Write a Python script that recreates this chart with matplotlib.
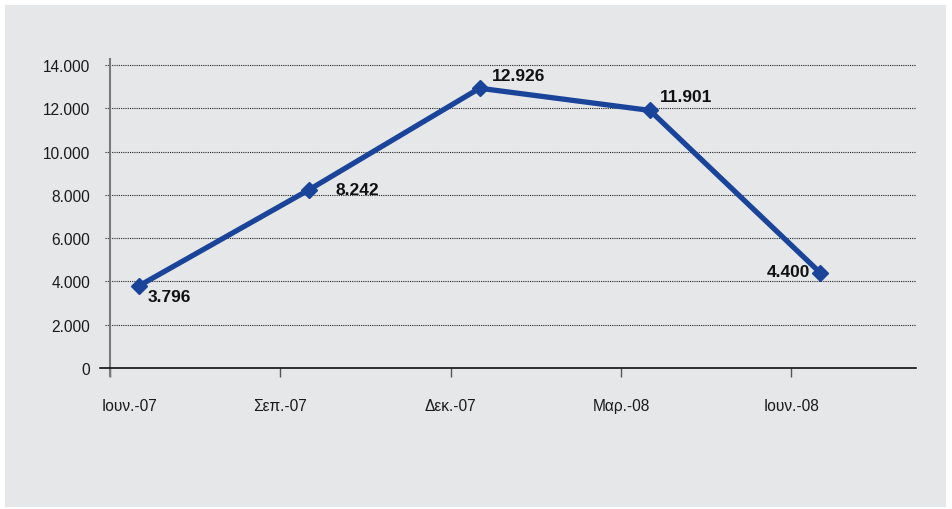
import matplotlib
matplotlib.use("Agg")
import matplotlib.pyplot as plt
from matplotlib.patches import Rectangle
from matplotlib.transforms import ScaledTranslation

plt.rcParams['font.family'] = ['Liberation Sans Narrow', 'Liberation Sans', 'DejaVu Sans']

categories = ["Ιουν.-07", "Σεπ.-07", "Δεκ.-07", "Μαρ.-08", "Ιουν.-08"]
values = [3796, 8242, 12926, 11901, 4400]
value_labels = ["3.796", "8.242", "12.926", "11.901", "4.400"]
yticks = [0, 2000, 4000, 6000, 8000, 10000, 12000, 14000]
ytick_labels = ["0", "2.000", "4.000", "6.000", "8.000", "10.000", "12.000", "14.000"]

W, H = 952, 510
fig = plt.figure(figsize=(W / 100, H / 100), dpi=100, facecolor="white")
bg = "#e6e7e9"
fig.patches.append(Rectangle((5 / W, 2 / H), 941 / W, 502 / H, transform=fig.transFigure,
                             facecolor=bg, edgecolor="none", zorder=-10))

ax = fig.add_axes([100 / W, (H - 369) / H, 816 / W, 309 / H])
ax.set_facecolor("none")
x = list(range(len(categories)))
tick_off = -0.17
ax.set_xlim(-0.229, 4.5625)
ax.set_ylim(0, 14277)

for s in ["top", "right", "left"]:
    ax.spines[s].set_visible(False)
ax.spines["bottom"].set_color("#111111")
ax.spines["bottom"].set_linewidth(1.2)

# dotted gridlines
ax.hlines(yticks[1:], -0.2, 4.5625, colors="#222222", linestyles=(0, (1.0, 1.0)), linewidth=0.8, zorder=1)
# y axis line (extends below x axis)
ax.plot([tick_off, tick_off], [-370, 14277], color="#7a7a7a", linewidth=1.5, clip_on=False, zorder=2)

ax.set_yticks(yticks)
ax.set_yticklabels(ytick_labels, fontsize=11.2, color="#1a1a1a")
ax.tick_params(axis="y", length=0, pad=7)

xt = [i + tick_off for i in x]
ax.set_xticks(xt)
ax.set_xticklabels(categories, fontsize=11.2, color="#1a1a1a")
ax.tick_params(axis="x", direction="out", length=6.5, width=1.0, color="#555555", pad=15)
lbls = ax.get_xticklabels()
lbls[0].set_transform(lbls[0].get_transform() + ScaledTranslation(19 / 100, 0, fig.dpi_scale_trans))

ax.plot(x, values, color="#1a449a", linewidth=3.8, marker="D", markersize=8,
        markeredgecolor="#1a449a", zorder=5, solid_joinstyle="miter")

offsets = [(9, -11, "left"), (26, 0, "left"), (12, 13, "left"), (10, 14, "left"), (-10, 1, "right")]
for xi, v, lab, (dx, dy, ha) in zip(x, values, value_labels, offsets):
    ax.annotate(lab, (xi, v), xytext=(dx, dy), textcoords="offset pixels", ha=ha, va="center",
                fontsize=12.5, fontweight="bold", color="#111111", zorder=6)

fig.savefig("out.png", dpi=100, facecolor="white")
